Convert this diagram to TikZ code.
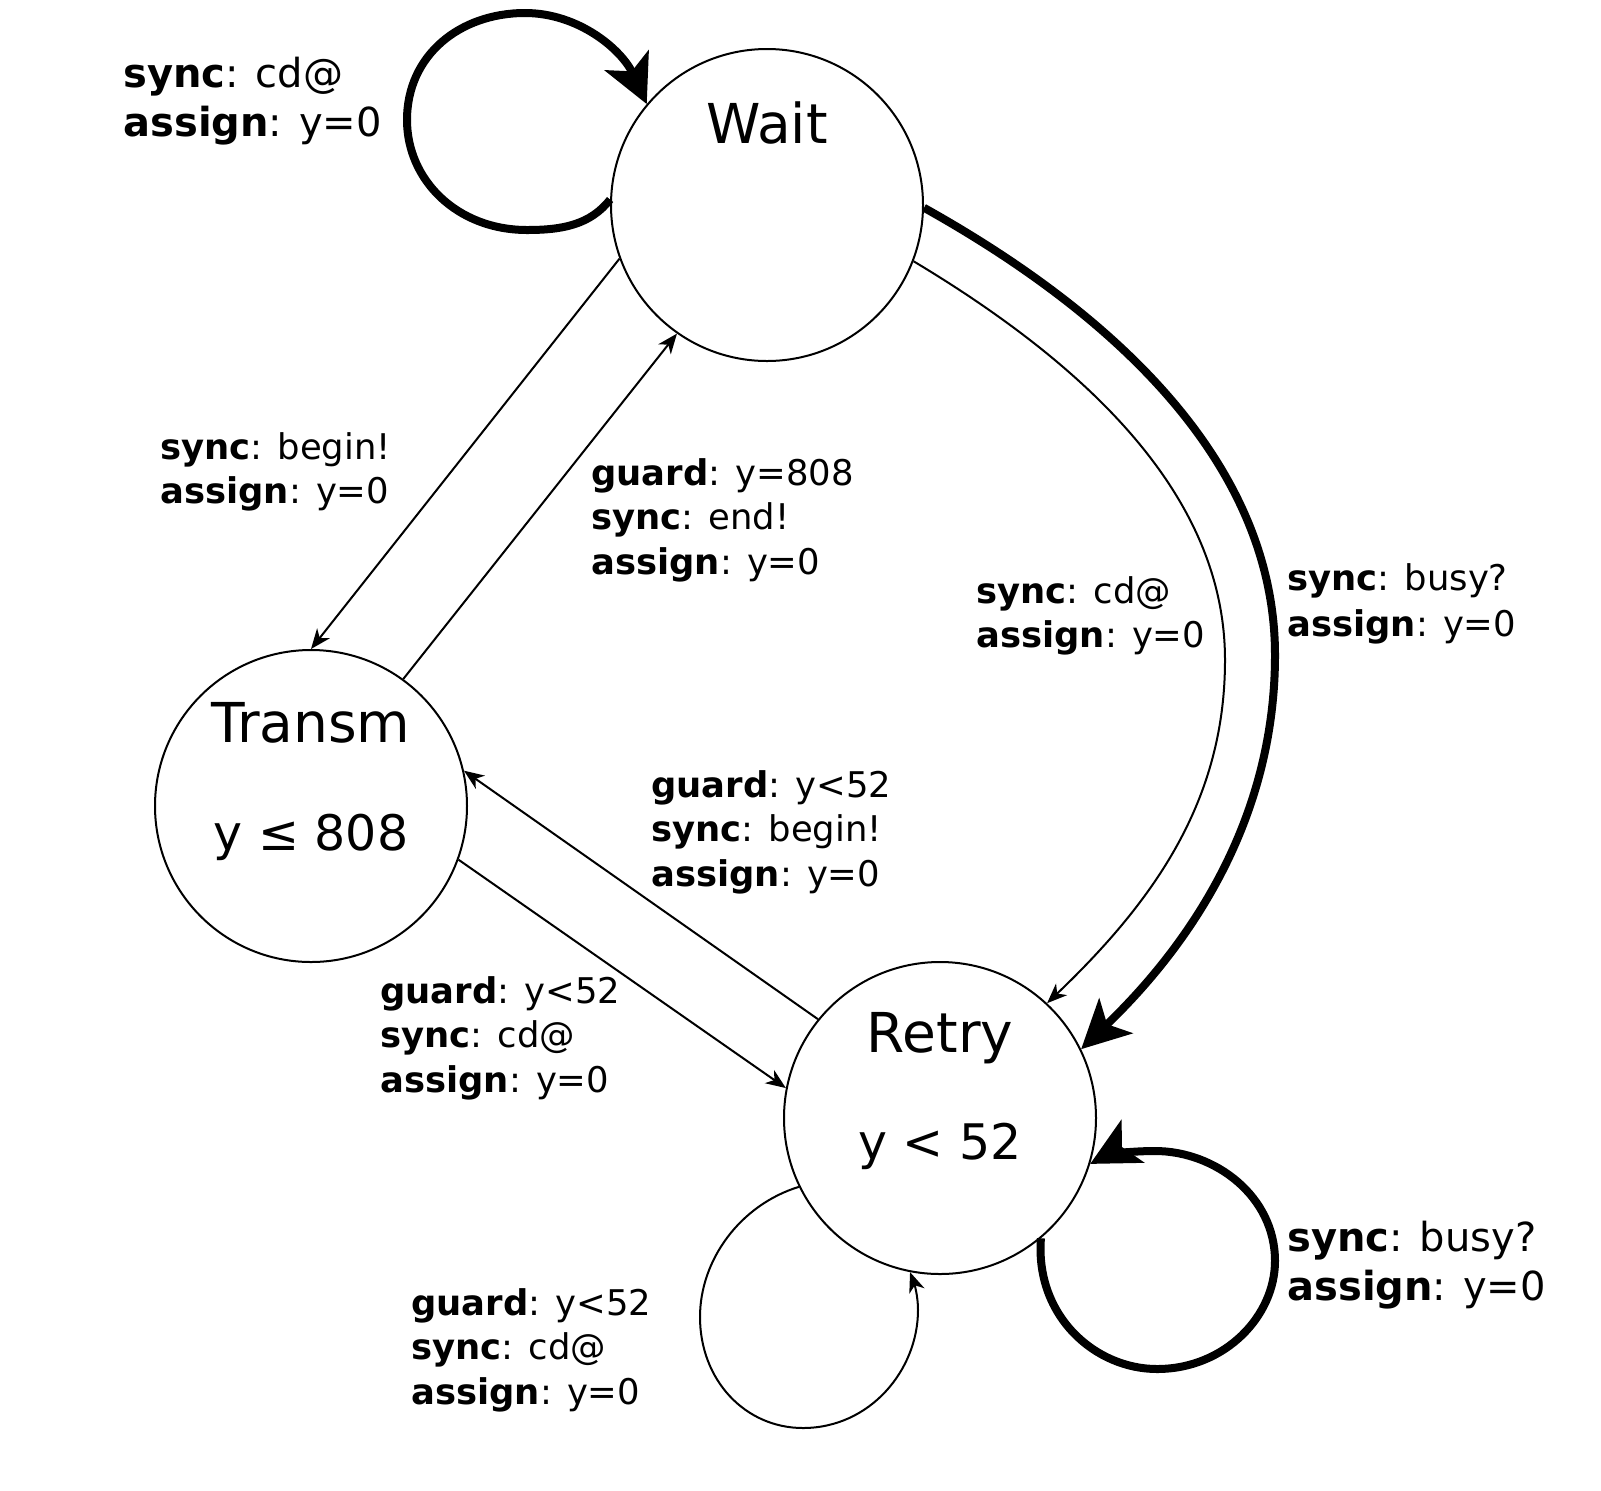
\documentclass[tikz,border=0pt]{standalone}
\usepackage{fontspec}
\setmainfont{DejaVu Sans}
\usetikzlibrary{arrows.meta}

\begin{document}
\begin{tikzpicture}[x=0.5pt, y=-0.5pt,
        state/.style={draw, circle, line width=1pt, minimum size=156pt, inner sep=0pt},
        statename/.style={anchor=base, inner sep=0pt, font=\fontsize{27.5}{32}\selectfont},
        stateinv/.style={anchor=base, inner sep=0pt, font=\fontsize{24.5}{29}\selectfont},
        thinarrow/.style={line width=1pt, -{Stealth[length=10pt, width=8pt, inset=3pt]}},
        thickarrow/.style={line width=4pt, -{Stealth[length=24pt, width=24pt, inset=6pt]}},
        lbl/.style={anchor=west, align=left, inner sep=0pt, font=\fontsize{17.7}{22.3}\selectfont},
        biglbl/.style={lbl, font=\fontsize{20}{24.2}\selectfont}]
        \useasboundingbox (0,0) rectangle (1601,1490);
        \node[state] (wait) at (767,205) {};
        \node[state] (transm) at (311,806) {};
        \node[state] (retry) at (940,1118) {};
        \node[statename] (waitname) at ([yshift=31pt]wait.center) {Wait};
        \node[statename] (transmname) at ([yshift=32pt]transm.center) {Transm};
        \node[stateinv] (transminv) at ([yshift=-22pt]transm.center) {y ≤ 808};
        \node[statename] (retryname) at ([yshift=33pt]retry.center) {Retry};
        \node[stateinv] (retryinv) at ([yshift=-20.5pt]retry.center) {y < 52};
        \draw[thinarrow] (wait.200) -- (transm.north);
        \draw[thinarrow] (transm.54.6) -- (wait.235);
        \draw[thinarrow] (retry.141) -- (transm.13);
        \draw[thinarrow] (transm.-20) -- (retry.169);
        \draw[thinarrow] (wait.-21) .. controls (1095,370) and (1225,500) .. (1225,660)
                .. controls (1225,800) and (1155,900) .. (retry.47);
        \draw[thickarrow] (wait.-1) .. controls (1125,320) and (1275,470) .. (1275,655)
                .. controls (1275,815) and (1195,940) .. (retry.26);
        \draw[thickarrow] (wait.178) .. controls (590,225) and (562,230) .. (527,230)
                .. controls (457,230) and (407,180) .. (407,120)
                .. controls (407,55) and (460,13) .. (525,13)
                .. controls (579,13) and (622,50) .. (wait.140);
        \draw[thickarrow] (retry.-50) .. controls (1035,1316) and (1095,1369) .. (1157,1369)
                .. controls (1225,1369) and (1275,1316) .. (1275,1261)
                .. controls (1275,1196) and (1215,1151) .. (1155,1151)
                .. controls (1125,1151) and (1105,1156) .. (retry.-17);
        \draw[thinarrow] (retry.206) .. controls (740,1205) and (700,1260) .. (700,1317)
                .. controls (700,1380) and (745,1428) .. (803,1428)
                .. controls (870,1428) and (918,1370) .. (918,1310)
                .. controls (918,1295) and (914,1283) .. (retry.-101);
        \node[biglbl] (waitloop) at (123,101) {\textbf{sync}: cd@\\\textbf{assign}: y=0};
        \node[lbl] (begin) at (160,472) {\textbf{sync}: begin!\\\textbf{assign}: y=0};
        \node[lbl] (end) at (591,520) {\textbf{guard}: y=808\\\textbf{sync}: end!\\\textbf{assign}: y=0};
        \node[lbl] (collide) at (976,616) {\textbf{sync}: cd@\\\textbf{assign}: y=0};
        \node[lbl] (busy) at (1287,604) {\textbf{sync}: busy?\\[1pt]\textbf{assign}: y=0};
        \node[lbl] (retrybegin) at (651,832) {\textbf{guard}: y<52\\\textbf{sync}: begin!\\\textbf{assign}: y=0};
        \node[lbl] (transmcd) at (380,1038) {\textbf{guard}: y<52\\\textbf{sync}: cd@\\\textbf{assign}: y=0};
        \node[lbl] (retrycd) at (411,1350) {\textbf{guard}: y<52\\\textbf{sync}: cd@\\\textbf{assign}: y=0};
        \node[biglbl] (retryloop) at (1287,1265) {\textbf{sync}: busy?\\\textbf{assign}: y=0};
\end{tikzpicture}
\end{document}
